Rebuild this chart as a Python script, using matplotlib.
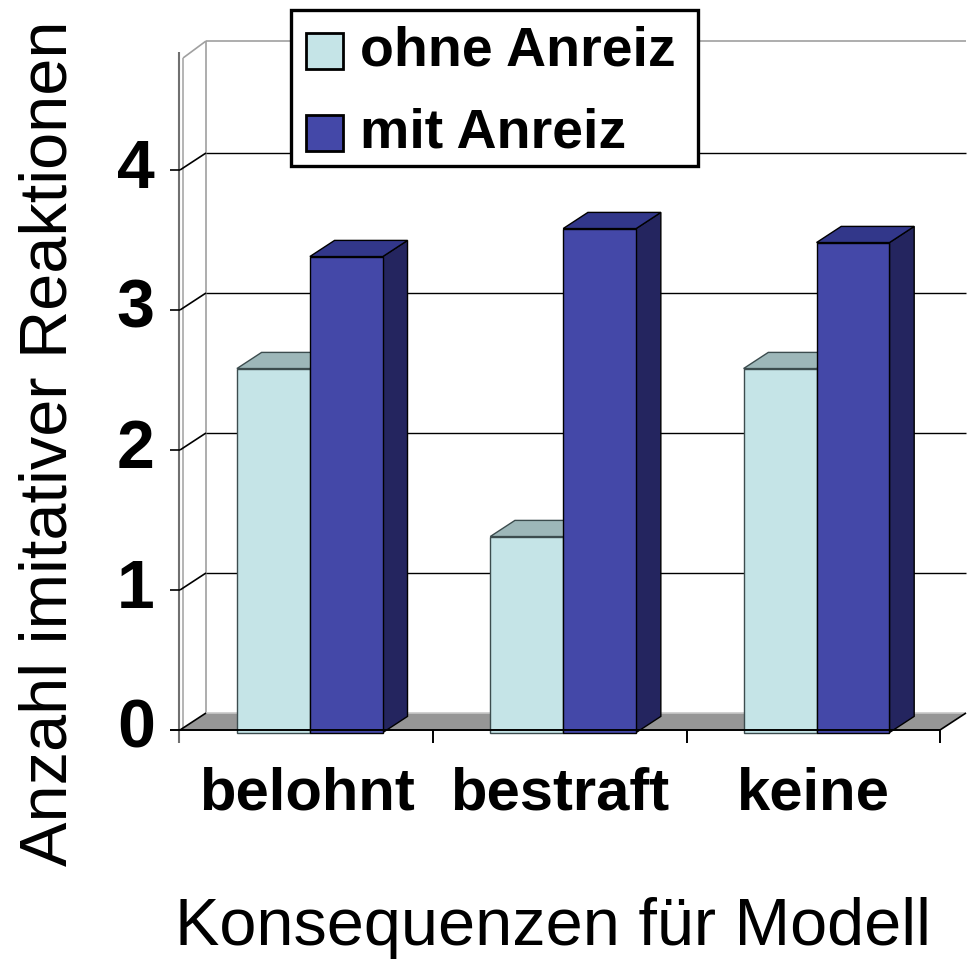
import numpy as np
import matplotlib
matplotlib.use("Agg")
import matplotlib.pyplot as plt
from matplotlib.patches import Polygon, Rectangle

plt.rcParams['font.family'] = ['Liberation Sans', 'DejaVu Sans']

# data
categories = ['belohnt', 'bestraft', 'keine']
series_names = ['ohne Anreiz', 'mit Anreiz']
ohne_anreiz = [2.6, 1.4, 2.6]
mit_anreiz = [3.4, 3.6, 3.5]
yticks = [0, 1, 2, 3, 4]

front_cols = ['#c5e4e7', '#4448a8']
top_cols = ['#9db7b9', '#32378a']
side_cols = ['#7f9a9c', '#24255f']
edge_cols = ['#3c4c4e', '#000000']

W, H = 967, 960
fig = plt.figure(figsize=(W / 100, H / 100), dpi=100)

# axes: front plane, x 0..3 (categories), y 0..4
ax = fig.add_axes([180 / W, 1 - 730 / H, 760 / W, 560 / H])
ax.set_xlim(0, 3)
ax.set_ylim(0, 4)
ax.axis('off')

# depth offset of the 3d box (data units)
dx, dy = 26 / 253.33, 17 / 140
ytop = 4.8


def line(xs, ys, **kw):
    kw.setdefault('clip_on', False)
    ax.plot(xs, ys, solid_capstyle='butt', **kw)


def face(pts, fc, ec, z, lw=1.0):
    ax.add_patch(Polygon(pts, closed=True, facecolor=fc, edgecolor=ec,
                         lw=lw, zorder=z, clip_on=False, joinstyle='miter'))


# back wall + left wall
line([dx, dx], [dy, ytop + dy], color='#a0a0a0', lw=1.2, zorder=1)
line([dx, 3 + dx], [ytop + dy, ytop + dy], color='#a0a0a0', lw=1.2, zorder=1)
line([0.012, dx], [ytop, ytop + dy], color='#a0a0a0', lw=1.2, zorder=1)
line([0.012, 0.012], [0, ytop], color='#a8a8a8', lw=1.2, zorder=1)
line([-0.002, -0.002], [-0.09, ytop + 0.04], color='#707070', lw=1.5, zorder=6)
for v in yticks[1:]:
    line([dx, 3 + dx], [v + dy, v + dy], color='black', lw=1.0, zorder=1)
    line([0, dx], [v, v + dy], color='black', lw=1.2, zorder=1)
    line([-0.04, 0], [v, v], color='black', lw=1.2, zorder=6)

# floor
face([(0, 0), (3, 0), (3 + dx, dy), (dx, dy)], '#969696', 'none', 2)
line([dx, 3 + dx], [dy, dy], color='#c8c8c8', lw=1.2, zorder=2)
line([0, dx], [0, dy], color='black', lw=1.2, zorder=2)
line([3, 3 + dx], [0, dy], color='black', lw=1.2, zorder=2)
line([-0.04, 3], [0, 0], color='black', lw=1.4, zorder=6)
for k in range(1, 4):
    line([k, k], [0, -0.09], color='black', lw=1.4, zorder=6)

# 3d bars
zf, zb = -0.15, 0.80
bw = 0.288
values = [ohne_anreiz, mit_anreiz]
for i in range(len(categories)):
    for j in range(2):
        v = values[j][i]
        x0 = i + 0.24 + j * bw + zf * dx
        x1 = x0 + bw
        y0 = zf * dy
        y1 = v + zf * dy
        ddx, ddy = (zb - zf) * dx, (zb - zf) * dy
        zo = 3 + i * 0.1 + j * 0.01
        face([(x1, y0), (x1 + ddx, y0 + ddy), (x1 + ddx, y1 + ddy), (x1, y1)],
             side_cols[j], edge_cols[j], zo)
        face([(x0, y1), (x1, y1), (x1 + ddx, y1 + ddy), (x0 + ddx, y1 + ddy)],
             top_cols[j], edge_cols[j], zo)
        face([(x0, y0), (x1, y0), (x1, y1), (x0, y1)],
             front_cols[j], edge_cols[j], zo + 0.005)

# tick labels
for v in yticks:
    ax.text(-0.1, v, str(v), ha='right', va='center', fontsize=49,
            fontweight='bold', clip_on=False)
for i, c in enumerate(categories):
    ax.text(i + 0.5, -0.46, c, ha='center', va='center', fontsize=43,
            fontweight='bold', clip_on=False)

fig.text(553 / W, 1 - 928 / H, 'Konsequenzen für Modell', ha='center',
         va='center', fontsize=48)
fig.text(50 / W, 1 - 443 / H, 'Anzahl imitativer Reaktionen', ha='center',
         va='center', rotation=90, fontsize=48)

# legend box
def fx(px):
    return px / W


def fy(py):
    return 1 - py / H


fig.add_artist(Rectangle((fx(291), fy(166)), 407 / W, 156 / H,
                         transform=fig.transFigure, facecolor='white',
                         edgecolor='black', lw=2.4, zorder=10))
for j, (name, py) in enumerate(zip(series_names, [51, 133])):
    fig.add_artist(Rectangle((fx(306), fy(py + 18)), 37 / W, 36 / H,
                             transform=fig.transFigure,
                             facecolor=front_cols[j], edgecolor='black',
                             lw=2.0, zorder=11))
    fig.text(fx(360), fy(py), name, ha='left', va='center', fontsize=40,
             fontweight='bold', zorder=12)

fig.savefig('out.png', dpi=100)
